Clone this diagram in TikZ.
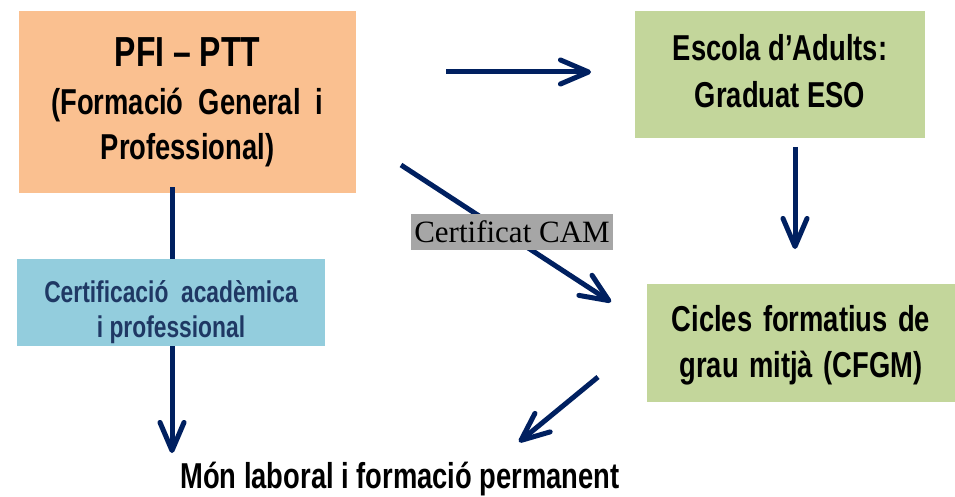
\documentclass[tikz,border=0pt]{standalone}
\usepackage{fontspec}
\usetikzlibrary{arrows.meta}
\newfontfamily\nar[FakeStretch=0.76]{Liberation Sans}
\newfontfamily\tms{Liberation Serif}
\definecolor{orangebox}{HTML}{FAC090}
\definecolor{greenbox}{HTML}{C3D69B}
\definecolor{bluebox}{HTML}{93CDDD}
\definecolor{navy}{HTML}{002060}
\definecolor{bluetext}{HTML}{1F3864}
\definecolor{graylab}{HTML}{A6A6A6}
\tikzset{
  box/.style={inner sep=0pt, align=center},
  big/.style={font=\nar\bfseries\fontsize{36}{46}\selectfont},
  conn/.style={draw=navy, line width=5pt, -{Straight Barb[length=28pt,width=24pt,line width=5pt,round]}},
}
\begin{document}
\begin{tikzpicture}[x=1pt,y=-1pt]
\useasboundingbox (0,0) rectangle (955,497);
% boxes
\node[box, big, fill=orangebox, minimum width=337pt, minimum height=182pt, font=\nar\bfseries\fontsize{36}{45}\selectfont] (pfi) at (187.5,102)
  {{\fontsize{42}{48}\selectfont PFI – PTT}\\[3pt](Formació \ General \ i\\Professional)\rule[-3pt]{0pt}{3pt}};
\node[box, big, fill=greenbox, minimum width=290pt, minimum height=127pt] (esc) at (780,74.5)
  {Escola d’Adults:\\[1pt]Graduat ESO\rule[-8pt]{0pt}{8pt}};
\node[box, big, fill=greenbox, minimum width=308pt, minimum height=118pt] (cfgm) at (801,342.5)
  {\rule{0pt}{32pt}Cicles \hspace{3pt}formatius \hspace{3pt}de\\grau \hspace{3pt}mitjà \hspace{3pt}(CFGM)};
\node[box, big, anchor=base] (mon) at (400,488.5) {Món laboral i formació permanent};
% connectors
\coordinate (c1s) at (446,72);   \coordinate (c1e) at (591,72);
\coordinate (c2s) at (401,165);  \coordinate (c2e) at (611,302);
\coordinate (c4s) at (795,147);  \coordinate (c4e) at (795,249);
\coordinate (c5s) at (598,377);  \coordinate (c5e) at (519,442);
\coordinate (c3e) at (172,453);
\draw[conn] (c1s) -- (c1e);
\draw[conn] (c2s) -- (c2e);
\draw[conn] (c4s) -- (c4e);
\draw[conn] (c5s) -- (c5e);
\draw[conn] (pfi.south -| 172,0) ++(0,-6) -- (c3e);
\node[box, fill=bluebox, text=bluetext, minimum width=308pt, minimum height=87pt, font=\nar\bfseries\fontsize{30}{35}\selectfont] (cert) at (171,302.5)
  {\rule{0pt}{42pt}Certificació \ acadèmica\\i professional};
\node[fill=graylab, inner sep=0pt, minimum width=202pt, minimum height=36pt, font=\tms\fontsize{31}{36}\selectfont] (cam) at (512,232) {Certificat CAM};
\end{tikzpicture}
\end{document}
